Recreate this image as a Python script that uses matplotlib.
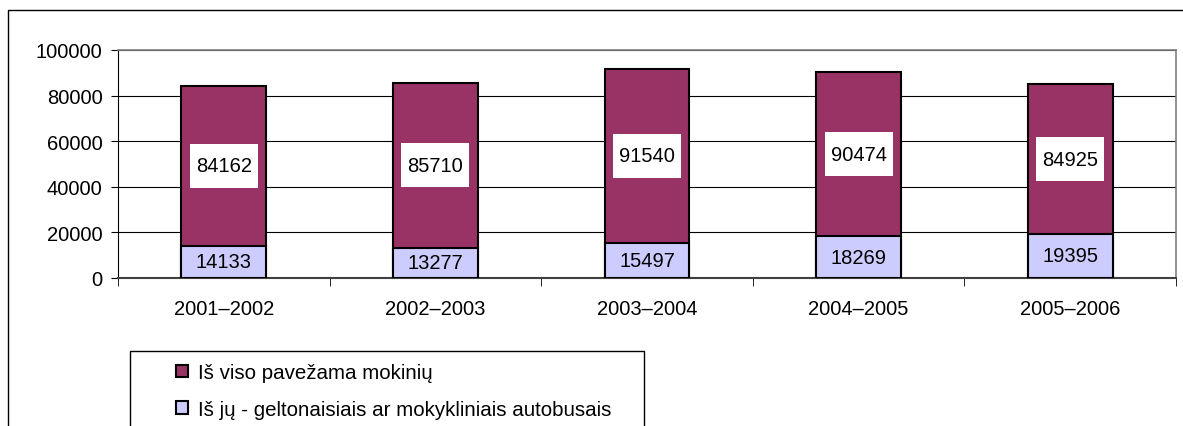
import matplotlib
matplotlib.use("Agg")
import matplotlib.pyplot as plt
from matplotlib.patches import Rectangle, Patch

plt.rcParams['font.family'] = ['Liberation Sans', 'DejaVu Sans']

categories = ["2001–2002", "2002–2003", "2003–2004", "2004–2005", "2005–2006"]
total_students = [84162, 85710, 91540, 90474, 84925]
yellow_bus_students = [14133, 13277, 15497, 18269, 19395]
series_labels = ["Iš viso pavežama mokinių", "Iš jų - geltonaisiais ar mokykliniais autobusais"]

W, H = 1183, 427
fig = plt.figure(figsize=(W / 100, H / 100), dpi=100)
fig.patch.set_facecolor('white')

# outer chart-area border
fig.add_artist(Rectangle((8 / W, -0.1), 1.2, 1 - 11 / H + 0.1, transform=fig.transFigure,
                         fill=False, edgecolor='black', linewidth=1.0))

ax_left, ax_right, ax_top, ax_bottom = 118, 1176, 51, 279
ax = fig.add_axes([ax_left / W, 1 - ax_bottom / H, (ax_right - ax_left) / W, (ax_bottom - ax_top) / H])
x = list(range(len(categories)))
purple = '#993366'
lavender = '#CCCCFF'
fs = 14.5

ax.bar(x, total_students, width=0.40, color=purple, edgecolor='black', linewidth=1.5, zorder=3)
ax.bar(x, yellow_bus_students, width=0.40, color=lavender, edgecolor='black', linewidth=1.5, zorder=4)

# label box size (pixels -> data units)
px_per_cat = (ax_right - ax_left) / len(categories)
px_per_val = (ax_bottom - ax_top) / 100000
box_w = 68 / px_per_cat
box_h = 44 / px_per_val

for xi, t, y in zip(x, total_students, yellow_bus_students):
    cy = (t + y) / 2
    ax.add_patch(Rectangle((xi - box_w / 2, cy - box_h / 2), box_w, box_h,
                           facecolor='white', edgecolor='none', zorder=5))
    ax.text(xi, cy, str(t), ha='center', va='center', fontsize=fs, zorder=6)
    ax.text(xi, y / 2, str(y), ha='center', va='center', fontsize=fs, zorder=6)

ax.set_xlim(-0.5, len(categories) - 0.5)
ax.set_ylim(0, 100000)
ax.set_yticks(range(0, 100001, 20000))
ax.set_yticklabels([str(v) for v in range(0, 100001, 20000)], fontsize=fs)
ax.set_xticks(x)
ax.set_xticklabels(categories, fontsize=fs)
ax.set_xticks([i + 0.5 for i in range(-1, len(categories))], minor=True)
ax.tick_params(axis='x', which='major', length=0, pad=15)
ax.tick_params(axis='x', which='minor', length=6, direction='out', color='black')
ax.tick_params(axis='y', length=5, direction='out', pad=6)

ax.grid(axis='y', color='black', linewidth=0.8, zorder=0)
ax.set_axisbelow(True)
for s in ['top', 'right']:
    ax.spines[s].set_color('#808080')
    ax.spines[s].set_linewidth(1.2)
ax.spines['left'].set_color('black')
ax.spines['bottom'].set_color('#404040')
ax.spines['bottom'].set_linewidth(1.5)

# legend frame
fig.add_artist(Rectangle((130 / W, -0.1), (644 - 130) / W, 1 - 352 / H + 0.1,
                         transform=fig.transFigure, fill=False, edgecolor='black', linewidth=1.0))
handles = [Patch(facecolor=purple, edgecolor='black', linewidth=1.5),
           Patch(facecolor=lavender, edgecolor='black', linewidth=1.5)]
fig.legend(handles, series_labels, loc='upper left', bbox_to_anchor=(166 / W, 1 - 354 / H),
           frameon=False, fontsize=14.8, handlelength=0.55, handleheight=0.55,
           handletextpad=0.5, labelspacing=0.85, borderpad=0)

fig.savefig('out.png', dpi=100)
